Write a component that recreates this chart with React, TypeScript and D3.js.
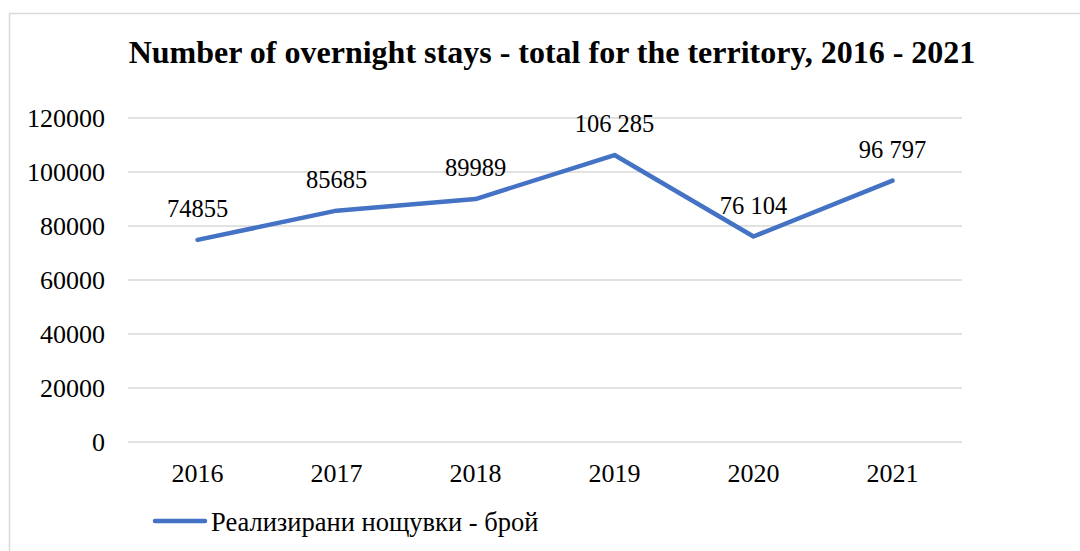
import React from 'react';
import * as d3 from 'd3';

const years = ['2016', '2017', '2018', '2019', '2020', '2021'];
const stays = [74855, 85685, 89989, 106285, 76104, 96797];
const labels = ['74855', '85685', '89989', '106 285', '76 104', '96 797'];
const yTicks = [0, 20000, 40000, 60000, 80000, 100000, 120000];

const title = 'Number of overnight stays - total for the territory, 2016 - 2021';
const legendLabel = 'Реализирани нощувки - брой';

const W = 1080;
const H = 551;
const margin = { top: 118, right: 118, bottom: 109, left: 128 };
const blue = '#4472C4';
const font = "'Liberation Serif', serif";

export default function App() {
  const x = d3
    .scaleBand()
    .domain(years)
    .range([margin.left, W - margin.right]);

  const y = d3
    .scaleLinear()
    .domain([0, 120000])
    .range([H - margin.bottom, margin.top]);

  const cx = (i: number) => (x(years[i]) as number) + x.bandwidth() / 2;

  const line = d3
    .line<number>()
    .x((_, i) => cx(i))
    .y((d) => y(d));

  return (
    <svg
      width={W}
      height={H}
      fontFamily={font}
      style={{ position: 'absolute', left: 0, top: 0, background: '#fff' }}
    >
      {/* chart frame */}
      <rect x={9.5} y={13.5} width={W + 10} height={H + 10} fill="none" stroke="#d9d9d9" strokeWidth={1.5} />

      <text x={552} y={63} textAnchor="middle" fontSize={32} fontWeight="bold" fill="#000" fontFamily={font}>
        {title}
      </text>

      <g className="grid">
        {yTicks.map((t) => (
          <line
            key={t}
            x1={margin.left}
            x2={W - margin.right}
            y1={y(t)}
            y2={y(t)}
            stroke="#d9d9d9"
            strokeWidth={1.5}
          />
        ))}
      </g>

      <g className="y-axis">
        {yTicks.map((t) => (
          <text key={t} x={105} y={y(t) + 9} textAnchor="end" fontSize={26} fill="#000" fontFamily={font}>
            {t}
          </text>
        ))}
      </g>

      <g className="x-axis">
        {years.map((yr, i) => (
          <text key={yr} x={cx(i)} y={482} textAnchor="middle" fontSize={26} fill="#000" fontFamily={font}>
            {yr}
          </text>
        ))}
      </g>

      <path
        d={line(stays) || ''}
        fill="none"
        stroke={blue}
        strokeWidth={4.5}
        strokeLinejoin="round"
        strokeLinecap="round"
      />

      <g className="labels">
        {stays.map((v, i) => (
          <text key={years[i]} x={cx(i)} y={y(v) - 23} textAnchor="middle" fontSize={24.5} fill="#000" fontFamily={font}>
            {labels[i]}
          </text>
        ))}
      </g>

      <g className="legend">
        <line x1={155} x2={205} y1={521} y2={521} stroke={blue} strokeWidth={4.5} strokeLinecap="round" />
        <text x={211} y={531} fontSize={26.5} fill="#000" fontFamily={font}>
          {legendLabel}
        </text>
      </g>
    </svg>
  );
}
